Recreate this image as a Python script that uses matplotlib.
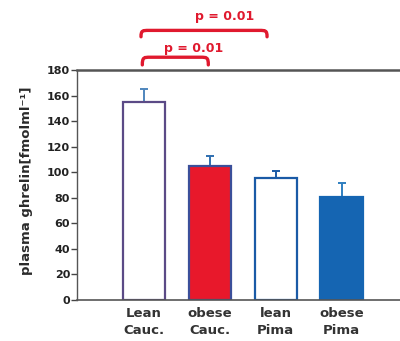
import matplotlib.pyplot as plt
import numpy as np
from matplotlib.path import Path
from matplotlib.patches import PathPatch

groups = ['Lean\nCauc.', 'obese\nCauc.', 'lean\nPima', 'obese\nPima']
ghrelin = [155, 105, 95.5, 80.5]
sem = [10, 8, 5.5, 11]
face = ['white', '#e8182b', 'white', '#1565b2']
edge = ['#5b4a86', '#3b4f9a', '#1a5aa6', '#1565b2']
err_col = ['#4f86bd', '#2f6fb0', '#1a5aa6', '#2f7fc0']
yticks = [0, 20, 40, 60, 80, 100, 120, 140, 160, 180]
pairs = [(-0.02, 0.98, 'p = 0.01'), (-0.04, 1.87, 'p = 0.01')]

plt.rcParams['font.family'] = ['DejaVu Sans']

fig = plt.figure(figsize=(4.0, 3.41), dpi=100)
ax = fig.add_axes([0.1925, 0.1202, 0.81, 0.6745])

x = np.arange(len(groups))
for i in range(len(groups)):
    ax.bar(x[i], ghrelin[i], width=0.64, color=face[i], edgecolor=edge[i],
           linewidth=1.6, zorder=2)
    ax.errorbar(x[i], ghrelin[i], yerr=[[0], [sem[i]]], fmt='none',
                ecolor=err_col[i], elinewidth=1.4, capsize=3, capthick=1.4,
                zorder=1)

ax.set_xlim(-1.01, 3.9)
ax.set_ylim(0, 180)
ax.set_yticks(yticks)
ax.set_yticklabels([str(t) for t in yticks], fontsize=8, fontweight='bold',
                   color='#222222')
ax.set_xticks(x)
ax.set_xticklabels(groups, fontsize=9.5, fontweight='bold', color='#333333',
                   linespacing=1.45)
ax.tick_params(axis='x', length=0, pad=5)
ax.tick_params(axis='y', length=4, width=1, color='#444444', pad=1)

ax.spines['right'].set_visible(False)
ax.spines['left'].set_color('#555555')
ax.spines['left'].set_linewidth(1.0)
ax.spines['bottom'].set_color('#555555')
ax.spines['bottom'].set_linewidth(1.2)
ax.spines['top'].set_color('#555555')
ax.spines['top'].set_linewidth(1.8)

ax.set_ylabel('plasma ghrelin[fmolml⁻¹]', fontsize=9.5, fontweight='bold',
              color='#2a2a2a')
ax.yaxis.set_label_coords(-0.135, 0.52)

# significance brackets above the bars
red = '#e0192e'
levels = [(184, 190, 197), (206, 211, 221.5)]
text_x = [0.75, 1.23]
for (a, b, txt), (y0, y1, yt), tx in zip(pairs, levels, text_x):
    c = 0.12
    verts = [(a, y0), (a, y1), (a + c * 0.2, y1), (a + c, y1),
             (b - c, y1), (b - c * 0.2, y1), (b, y1), (b, y0)]
    codes = [Path.MOVETO, Path.CURVE4, Path.CURVE4, Path.CURVE4,
             Path.LINETO, Path.CURVE4, Path.CURVE4, Path.CURVE4]
    ax.add_patch(PathPatch(Path(verts, codes), fill=False, edgecolor=red,
                           linewidth=2.4, capstyle='round', clip_on=False))
    ax.text(tx, yt, txt, ha='center', va='center',
            fontsize=9, fontweight='bold', color=red, clip_on=False)

fig.savefig('out.png', dpi=100)
